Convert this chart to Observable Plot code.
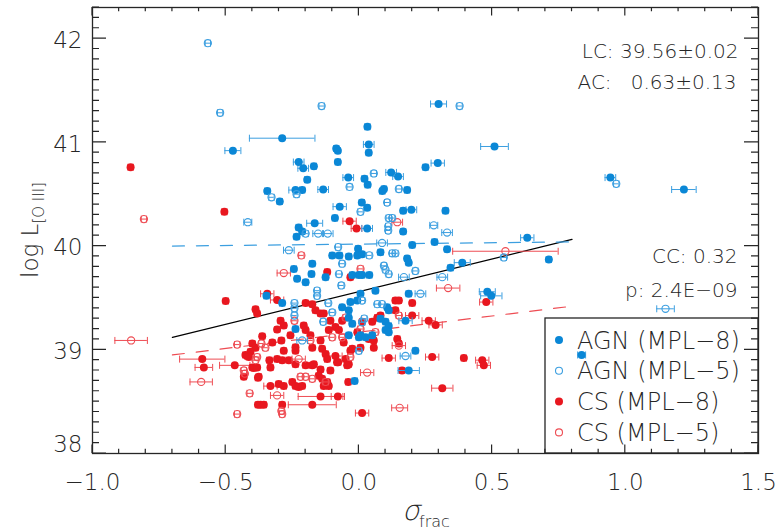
<!DOCTYPE html>
<html>
<head>
<meta charset="utf-8">
<script src="https://cdn.jsdelivr.net/npm/d3@7"></script>
<script src="https://cdn.jsdelivr.net/npm/@observablehq/plot@0.6"></script>
<style>
  body { margin: 0; background: #fff; }
  #chart { width: 778px; height: 531px; }
</style>
</head>
<body>
<div id="chart"></div>
<script>
// Sample labels, in legend order
const groups = ["AGN (MPL−8)", "AGN (MPL−5)", "CS (MPL−8)", "CS (MPL−5)"];

// Each entry: [sigma_frac, log L[O III], sigma_frac error]
const agnMpl8 = [
  [-0.473, 40.92, 0.03], [-0.288, 41.04, 0.123], [0.299, 41.37, 0.03], [0.509, 40.96, 0.052],
  [0.032, 41.15, 0.01], [0.037, 40.98, 0.02], [0.037, 40.90, 0.01], [-0.085, 40.94, 0.01],
  [-0.079, 40.92, 0.01], [-0.079, 40.81, 0.01], [-0.226, 40.81, 0.02], [-0.209, 40.75, 0.02],
  [-0.169, 40.77, 0.01], [-0.194, 40.64, 0.01], [-0.344, 40.53, 0.01], [-0.297, 40.43, 0.01],
  [-0.238, 40.54, 0.025], [-0.213, 40.54, 0.01], [-0.134, 40.545, 0.02], [-0.04, 40.66, 0.02],
  [0.021, 40.65, 0.01], [0.033, 40.59, 0.01], [0.121, 40.71, 0.02], [0.147, 40.67, 0.02],
  [0.094, 40.55, 0.01], [0.088, 40.53, 0.01], [0.181, 40.54, 0.01], [0.25, 40.76, 0.01],
  [0.296, 40.80, 0.025], [0.944, 40.66, 0.02], [1.22, 40.545, 0.046], [0.011, 40.42, 0.01],
  [0.031, 40.37, 0.01], [-0.072, 40.38, 0.025], [-0.09, 40.27, 0.01], [-0.166, 40.22, 0.03],
  [-0.226, 40.18, 0.01], [-0.213, 40.14, 0.01], [-0.234, 40.09, 0.01], [0.031, 40.17, 0.02],
  [0.166, 40.34, 0.01], [0.197, 40.35, 0.02], [0.325, 40.34, 0.01], [0.166, 40.14, 0.01],
  [0.284, 40.04, 0.01], [0.2, 40.01, 0.01], [-0.003, 39.975, 0.01], [0.331, 39.97, 0.01],
  [0.632, 40.08, 0.025], [0.713, 39.87, 0.01], [0.482, 39.56, 0.03], [0.497, 39.52, 0.04],
  [0.836, 38.95, 0.015], [-0.10, 39.91, 0.01], [-0.073, 39.91, 0.01], [-0.038, 39.90, 0.01],
  [-0.006, 39.91, 0.01], [0.012, 39.92, 0.01], [-0.175, 39.83, 0.01], [-0.244, 39.78, 0.01],
  [-0.232, 39.685, 0.01], [-0.178, 39.73, 0.01], [-0.2, 39.65, 0.01], [-0.025, 39.72, 0.01],
  [0.0, 39.72, 0.01], [0.012, 39.72, 0.01], [0.039, 39.72, 0.01], [-0.125, 39.70, 0.01],
  [-0.347, 39.52, 0.01], [-0.288, 39.45, 0.01], [-0.063, 39.41, 0.01], [-0.038, 39.38, 0.01],
  [-0.032, 39.46, 0.01], [0.006, 39.54, 0.01], [-0.006, 39.475, 0.01], [-0.238, 39.20, 0.01],
  [-0.038, 39.31, 0.01], [-0.025, 39.25, 0.01], [-0.038, 39.14, 0.01], [0.0, 39.12, 0.01],
  [0.081, 39.94, 0.01], [0.181, 39.88, 0.01], [0.187, 39.84, 0.01], [0.388, 39.84, 0.03],
  [0.344, 39.79, 0.01], [0.062, 39.57, 0.01], [0.187, 39.54, 0.01], [0.106, 39.41, 0.01],
  [0.112, 39.38, 0.01], [0.081, 39.30, 0.01], [0.10, 39.27, 0.01], [0.112, 39.23, 0.01],
  [0.10, 39.19, 0.01], [0.112, 39.17, 0.01], [0.175, 39.28, 0.025], [0.006, 39.14, 0.01],
  [0.025, 39.12, 0.01], [0.05, 39.14, 0.01], [0.212, 38.99, 0.01], [0.187, 38.80, 0.04],
  [-0.016, 38.70, 0.01]
];

const agnMpl5 = [
  [-0.567, 41.956, 0.01], [-0.521, 41.285, 0.01], [-0.14, 41.35, 0.01], [0.378, 41.35, 0.01],
  [-0.417, 40.23, 0.015], [-0.328, 40.47, 0.01], [-0.234, 40.50, 0.01], [0.056, 40.70, 0.01],
  [-0.035, 40.57, 0.01], [0.15, 40.55, 0.01], [0.106, 40.42, 0.01], [0.006, 40.33, 0.01],
  [0.112, 40.27, 0.01], [0.11, 40.19, 0.01], [0.11, 40.15, 0.01], [0.125, 40.27, 0.01],
  [-0.2, 40.12, 0.01], [-0.153, 40.12, 0.02], [-0.117, 40.12, 0.02], [0.281, 40.20, 0.015],
  [0.331, 40.13, 0.02], [0.087, 40.03, 0.02], [-0.263, 39.96, 0.02], [-0.078, 39.99, 0.01],
  [0.966, 40.60, 0.01], [1.151, 39.395, 0.033], [0.544, 39.89, 0.01], [0.039, 39.91, 0.01],
  [0.125, 39.93, 0.01], [0.137, 39.93, 0.01], [0.212, 39.76, 0.01], [0.094, 39.81, 0.01],
  [0.10, 39.77, 0.01], [0.112, 39.73, 0.01], [0.169, 39.70, 0.02], [0.313, 39.70, 0.02],
  [0.231, 39.54, 0.02], [0.012, 39.475, 0.01], [0.069, 39.44, 0.01], [0.087, 39.44, 0.01],
  [-0.063, 39.83, 0.01], [-0.075, 39.73, 0.01], [-0.066, 39.62, 0.01], [-0.157, 39.57, 0.01],
  [-0.157, 39.52, 0.01], [-0.242, 39.45, 0.01], [-0.242, 39.40, 0.01], [-0.242, 39.33, 0.01],
  [-0.115, 39.45, 0.01], [-0.10, 39.36, 0.01], [-0.134, 39.27, 0.01], [0.02, 39.30, 0.01],
  [0.012, 39.265, 0.01], [-0.213, 39.09, 0.02], [0.0, 38.99, 0.01], [0.175, 38.94, 0.02]
];

const csMpl8 = [
  [-0.857, 40.76, 0.01], [-0.505, 40.33, 0.01], [-0.035, 40.24, 0.025], [-0.009, 40.17, 0.02],
  [0.478, 39.46, 0.025], [-0.5, 39.47, 0.01], [-0.588, 38.91, 0.085], [-0.582, 38.83, 0.033],
  [-0.466, 38.85, 0.057], [-0.40, 39.06, 0.01], [-0.426, 38.95, 0.01], [-0.432, 38.74, 0.01],
  [-0.379, 38.47, 0.01], [-0.388, 39.39, 0.01], [-0.40, 38.83, 0.01], [-0.379, 38.73, 0.01],
  [-0.119, 39.75, 0.01], [-0.032, 39.70, 0.01], [-0.307, 39.48, 0.025], [-0.2, 39.45, 0.01],
  [-0.175, 39.44, 0.01], [-0.163, 39.38, 0.01], [-0.144, 39.35, 0.01], [-0.132, 39.35, 0.01],
  [-0.382, 39.35, 0.01], [-0.294, 39.28, 0.01], [-0.307, 39.195, 0.01], [-0.282, 39.235, 0.01],
  [-0.207, 39.235, 0.01], [-0.2, 39.19, 0.01], [-0.107, 39.28, 0.01], [-0.088, 39.22, 0.01],
  [-0.063, 39.28, 0.01], [-0.182, 39.14, 0.01], [-0.175, 39.02, 0.01], [-0.144, 39.09, 0.01],
  [-0.138, 39.01, 0.01], [-0.363, 39.13, 0.01], [-0.388, 39.02, 0.01], [-0.407, 38.98, 0.01],
  [-0.419, 38.94, 0.01], [-0.291, 39.09, 0.01], [-0.282, 38.99, 0.01], [-0.325, 39.07, 0.01],
  [-0.257, 39.14, 0.01], [-0.238, 39.025, 0.01], [-0.113, 39.19, 0.01], [-0.075, 39.19, 0.01],
  [-0.025, 39.01, 0.01], [-0.057, 39.07, 0.01], [-0.394, 38.825, 0.01], [-0.382, 38.83, 0.01],
  [-0.336, 38.90, 0.01], [-0.332, 38.83, 0.01], [-0.413, 38.93, 0.01], [-0.307, 38.91, 0.01],
  [-0.288, 38.90, 0.01], [-0.263, 38.90, 0.01], [-0.238, 38.86, 0.01], [-0.2, 38.85, 0.01],
  [-0.175, 38.85, 0.01], [-0.125, 38.96, 0.01], [-0.119, 38.91, 0.01], [-0.088, 38.94, 0.025],
  [-0.078, 38.88, 0.01], [-0.038, 38.86, 0.01], [-0.169, 38.86, 0.01], [-0.144, 38.81, 0.01],
  [-0.376, 38.74, 0.01], [-0.332, 38.65, 0.025], [-0.301, 38.67, 0.01], [-0.282, 38.65, 0.01],
  [-0.25, 38.69, 0.01], [-0.238, 38.65, 0.01], [-0.226, 38.64, 0.01], [-0.213, 38.65, 0.01],
  [-0.151, 38.75, 0.01], [-0.138, 38.72, 0.01], [-0.119, 38.69, 0.01], [-0.113, 38.65, 0.01],
  [-0.132, 38.65, 0.01], [-0.144, 38.55, 0.084], [-0.175, 38.47, 0.09], [-0.369, 38.47, 0.01],
  [-0.357, 38.47, 0.01], [-0.288, 38.47, 0.01], [0.012, 38.39, 0.025], [-0.079, 38.55, 0.025],
  [0.137, 39.475, 0.01], [0.15, 39.475, 0.01], [0.2, 39.45, 0.01], [0.137, 39.38, 0.01],
  [0.2, 39.33, 0.025], [0.262, 39.28, 0.025], [0.288, 39.24, 0.025], [0.05, 39.27, 0.01],
  [0.069, 39.31, 0.01], [0.081, 39.33, 0.01], [0.012, 39.27, 0.01], [-0.006, 39.17, 0.01],
  [0.037, 39.105, 0.01], [0.056, 39.09, 0.01], [0.056, 39.02, 0.01], [0.144, 39.105, 0.01],
  [0.15, 39.06, 0.01], [0.112, 38.92, 0.025], [0.275, 38.93, 0.025], [0.394, 38.92, 0.01],
  [0.463, 38.90, 0.025], [0.469, 38.85, 0.025], [0.313, 38.63, 0.04], [0.162, 38.80, 0.01],
  [-0.107, 38.80, 0.01], [-0.082, 38.88, 0.01], [-0.05, 38.91, 0.01], [-0.044, 38.85, 0.01],
  [-0.032, 38.99, 0.01], [0.006, 39.02, 0.01], [-0.344, 39.54, 0.025], [-0.238, 38.99, 0.01],
  [-0.04, 38.69, 0.01]
];

const csMpl5 = [
  [-0.807, 40.26, 0.01], [-0.855, 39.09, 0.061], [-0.592, 38.69, 0.042], [-0.457, 38.38, 0.01],
  [-0.457, 39.05, 0.01], [-0.428, 38.77, 0.01], [-0.41, 38.58, 0.01], [0.144, 40.23, 0.02],
  [0.55, 39.95, 0.198], [-0.216, 39.91, 0.01], [-0.282, 39.74, 0.025], [-0.242, 39.28, 0.01],
  [-0.05, 39.31, 0.01], [-0.182, 39.09, 0.01], [-0.10, 39.12, 0.01], [-0.063, 39.12, 0.01],
  [-0.366, 39.06, 0.01], [-0.351, 39.02, 0.01], [-0.432, 38.80, 0.01], [-0.382, 38.93, 0.01],
  [-0.388, 38.90, 0.01], [-0.226, 38.91, 0.025], [-0.032, 38.93, 0.01], [-0.219, 38.74, 0.01],
  [-0.2, 38.74, 0.01], [-0.175, 38.72, 0.01], [-0.307, 38.56, 0.025], [-0.291, 38.41, 0.01],
  [-0.288, 38.38, 0.01], [0.335, 39.595, 0.044], [0.006, 39.20, 0.01], [0.062, 39.17, 0.01],
  [0.15, 39.33, 0.01], [0.15, 39.04, 0.025], [0.031, 38.78, 0.025], [0.153, 38.44, 0.03],
  [0.006, 39.78, 0.01], [-0.125, 38.69, 0.01]
];

// Fit results
const fitLC = 39.56, fitLCErr = 0.02;
const fitAC = 0.63, fitACErr = 0.13;
const corrCC = 0.32;
const corrP = "2.4E−09";
const fitRange = [-0.7, 0.8];
const agnFitY = [40.00, 40.04];
const csFitY = [38.95, 39.42];

// Axis ticks
const xMajor = [-1.0, -0.5, 0.0, 0.5, 1.0, 1.5];
const xMinor = d3.range(-10, 16).map(i => i / 10).filter(v => !xMajor.includes(v));
const yMajor = [38, 39, 40, 41, 42];
const yMinor = d3.range(380, 424).map(i => i / 10).filter(v => !yMajor.includes(v));

const BLUE = "#0a87d6";
const BLUE_LIGHT = "#3c9fe0";
const RED = "#e8171f";
const RED_LIGHT = "#ee4c53";
const INK = "#262626";
const FONT = "'DejaVu Sans', sans-serif";
const WEIGHT = 200;

const W = 778, H = 531;
const margin = {left: 92, right: 20, top: 7, bottom: 78};
const xDomain = [-1.0, 1.5];
const yDomain = [38.0, 42.3];

const toRows = (arr) => arr.map(([x, y, e]) => ({x, y, e}));
const sets = [
  {rows: toRows(csMpl8), color: RED, bar: RED_LIGHT, open: false},
  {rows: toRows(csMpl5), color: RED_LIGHT, bar: RED_LIGHT, open: true},
  {rows: toRows(agnMpl8), color: BLUE, bar: BLUE_LIGHT, open: false},
  {rows: toRows(agnMpl5), color: BLUE_LIGHT, bar: BLUE_LIGHT, open: true}
];

// Vertical cap drawn at each end of an error bar
const capSymbol = {
  draw(ctx, size) {
    const h = Math.sqrt(size / Math.PI);
    ctx.moveTo(0, -h);
    ctx.lineTo(0, h);
  }
};

const pointMarks = sets.flatMap(({rows, color, bar, open}) => [
  Plot.ruleY(rows, {y: "y", x1: d => d.x - d.e, x2: d => d.x + d.e, stroke: bar, strokeWidth: 1}),
  Plot.dot(rows, {x: d => d.x - d.e, y: "y", symbol: capSymbol, r: 3.5, stroke: bar, fill: "none", strokeWidth: 1}),
  Plot.dot(rows, {x: d => d.x + d.e, y: "y", symbol: capSymbol, r: 3.5, stroke: bar, fill: "none", strokeWidth: 1}),
  open
    ? Plot.dot(rows, {x: "x", y: "y", r: 3.6, stroke: color, fill: "none", strokeWidth: 1.1})
    : Plot.dot(rows, {x: "x", y: "y", r: 4, fill: color, stroke: "none"})
]);

const fitLines = [
  {ys: fitRange.map(x => fitLC + fitAC * x), color: "#000", dash: null, width: 1.3},
  {ys: agnFitY, color: BLUE_LIGHT, dash: "12,12", width: 1.2},
  {ys: csFitY, color: RED_LIGHT, dash: "12,12", width: 1.2}
].map(({ys, color, dash, width}) =>
  Plot.line(fitRange.map((x, i) => ({x, y: ys[i]})), {x: "x", y: "y", stroke: color, strokeWidth: width, strokeDasharray: dash})
);

const fmtX = d => d3.format(".1f")(d);

const chart = Plot.plot({
  width: W,
  height: H,
  marginLeft: margin.left,
  marginRight: margin.right,
  marginTop: margin.top,
  marginBottom: margin.bottom,
  style: {fontFamily: FONT, fontWeight: WEIGHT, background: "#fff", color: INK},
  x: {domain: xDomain, label: null},
  y: {domain: yDomain, label: null},
  marks: [
    ...fitLines,
    ...pointMarks,
    Plot.axisX({anchor: "bottom", ticks: xMajor, tickSize: 0, tickPadding: 20, tickFormat: fmtX,
      fontSize: 23, fill: INK, label: null}),
    Plot.axisY({anchor: "left", ticks: yMajor.slice(1), tickSize: 0, tickPadding: 10, tickFormat: d3.format("d"),
      fontSize: 23, fill: INK, label: null, dy: 2}),
    Plot.axisY({anchor: "left", ticks: yMajor.slice(0, 1), tickSize: 0, tickPadding: 10, tickFormat: d3.format("d"),
      fontSize: 23, fill: INK, label: null, dy: -9}),
    Plot.text([`LC: ${fitLC.toFixed(2)}±${fitLCErr.toFixed(2)}`], {frameAnchor: "top-right", dx: -20, dy: 36, fontSize: 20, fill: INK, textAnchor: "end"}),
    Plot.text([`AC:\u00a0\u00a0 ${fitAC.toFixed(2)}±${fitACErr.toFixed(2)}`], {frameAnchor: "top-right", dx: -22, dy: 67, fontSize: 20, fill: INK, textAnchor: "end"}),
    Plot.text([`CC: ${corrCC.toFixed(2)}`], {frameAnchor: "top-right", dx: -21, dy: 241, fontSize: 20, fill: INK, textAnchor: "end"}),
    Plot.text([`p: ${corrP}`], {frameAnchor: "top-right", dx: -21, dy: 275, fontSize: 20, fill: INK, textAnchor: "end"}),
    Plot.frame({stroke: INK, strokeWidth: 1.3})
  ]
});

const svg = d3.select(chart);

// Axis titles
const yTitle = svg.append("text")
  .attr("transform", "translate(38,230) rotate(-90)")
  .attr("text-anchor", "middle")
  .attr("fill", INK)
  .attr("font-size", 23)
  .attr("font-family", FONT)
  .attr("font-weight", WEIGHT);
yTitle.append("tspan").text("log L");
yTitle.append("tspan").attr("font-size", 15).attr("dy", 6).text("[O III]");

const xTitle = svg.append("g").attr("fill", INK).attr("font-family", FONT).attr("font-weight", WEIGHT)
  .attr("text-anchor", "start");
xTitle.append("text")
  .attr("transform", "translate(402,520) skewX(-14)")
  .attr("font-size", 28).text("σ");
xTitle.append("text")
  .attr("x", 419).attr("y", 527)
  .attr("font-size", 16).text("frac");

// Legend
const legend = svg.append("g").attr("font-family", FONT).attr("font-weight", WEIGHT).attr("text-anchor", "start");
legend.append("rect")
  .attr("x", 545).attr("y", 318).attr("width", 213).attr("height", 135)
  .attr("fill", "none").attr("stroke", INK).attr("stroke-width", 1.3);
const legendStyle = [
  {fill: BLUE, stroke: "none"},
  {fill: "none", stroke: BLUE_LIGHT},
  {fill: RED, stroke: "none"},
  {fill: "none", stroke: RED_LIGHT}
];
groups.forEach((name, i) => {
  const cy = 340 + i * 30.8;
  legend.append("circle").attr("cx", 559).attr("cy", cy).attr("r", i % 2 ? 3.5 : 4)
    .attr("fill", legendStyle[i].fill).attr("stroke", legendStyle[i].stroke).attr("stroke-width", 1.1);
  legend.append("text").attr("x", 577).attr("y", cy).attr("dy", "0.36em")
    .attr("font-size", 24).attr("fill", INK).text(name);
});

// Inward ticks on all four sides of the frame, built as one path
const px = d3.scaleLinear(xDomain, [margin.left, W - margin.right]);
const py = d3.scaleLinear(yDomain, [H - margin.bottom, margin.top]);
const [fL, fR] = px.range();
const [fB, fT] = py.range();
const tickPath = d3.path();
const addX = (v, len) => {
  const x = px(v);
  tickPath.moveTo(x, fB); tickPath.lineTo(x, fB - len);
  tickPath.moveTo(x, fT); tickPath.lineTo(x, fT + len);
};
const addY = (v, len) => {
  const y = py(v);
  tickPath.moveTo(fL, y); tickPath.lineTo(fL + len, y);
  tickPath.moveTo(fR, y); tickPath.lineTo(fR - len, y);
};
xMinor.forEach(v => addX(v, 4.3));
xMajor.forEach(v => addX(v, 8.5));
yMinor.forEach(v => addY(v, 7));
yMajor.forEach(v => addY(v, 14));
svg.append("path")
  .attr("d", tickPath.toString())
  .attr("fill", "none")
  .attr("stroke", INK)
  .attr("stroke-width", 1.2);

document.getElementById("chart").appendChild(chart);
</script>
</body>
</html>
